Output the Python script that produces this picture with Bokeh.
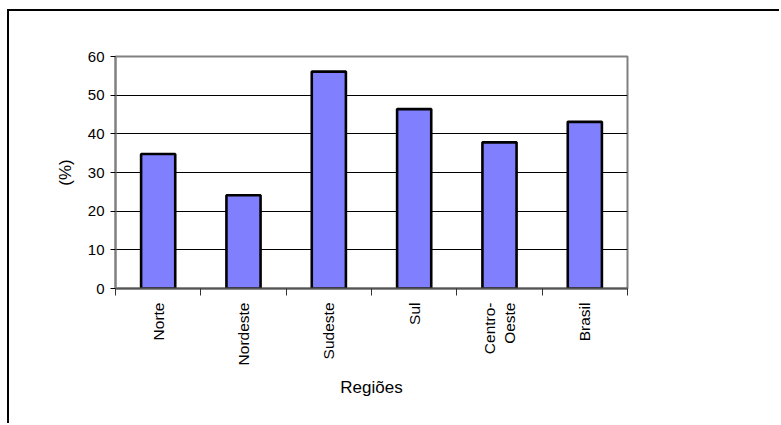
import math
from bokeh.plotting import figure
from bokeh.models import FixedTicker, Range1d, ColumnDataSource
from bokeh.embed import file_html
from bokeh.resources import INLINE

categories = ["Norte", "Nordeste", "Sudeste", "Sul", "Centro-\nOeste", "Brasil"]
values = [34.8, 24.1, 56.1, 46.4, 37.8, 43.1]
y_ticks = [0, 10, 20, 30, 40, 50, 60]

xpos = [i + 0.5 for i in range(len(categories))]
src = ColumnDataSource(dict(x=xpos, top=values))

p = figure(width=772, height=414, output_backend="svg", toolbar_location=None,
           x_range=Range1d(0, len(categories)), y_range=Range1d(0, 60),
           min_border_left=106, min_border_top=45, min_border_right=154, min_border_bottom=137,
           styles={"border-left": "2px solid black", "border-top": "2px solid black",
                   "margin-left": "7px", "margin-top": "9px"})

p.vbar(x="x", top="top", width=0.4, bottom=0, source=src,
       fill_color="#8080FF", line_color="black", line_width=2.6)

p.outline_line_color = "#808080"
p.outline_line_width = 2
p.background_fill_color = "white"

# grid
p.xgrid.visible = False
p.ygrid.ticker = FixedTicker(ticks=y_ticks)
p.ygrid.grid_line_color = "black"
p.ygrid.grid_line_width = 1

# y axis
ya = p.yaxis[0]
ya.ticker = FixedTicker(ticks=y_ticks)
ya.axis_line_color = "#808080"
ya.axis_line_width = 2
ya.major_tick_line_color = "black"
ya.major_tick_out = 5
ya.major_tick_in = 0
ya.minor_tick_line_color = None
ya.major_label_text_font = "Liberation Sans"
ya.major_label_text_font_size = "15px"
ya.major_label_text_color = "black"
ya.major_label_standoff = 6
ya.axis_label = "(%)"
ya.axis_label_text_font = "Liberation Sans"
ya.axis_label_text_font_size = "17px"
ya.axis_label_text_font_style = "normal"
ya.axis_label_text_color = "black"
ya.axis_label_standoff = 10

# x axis
xa = p.xaxis[0]
xa.ticker = FixedTicker(ticks=xpos, minor_ticks=list(range(len(categories) + 1)))
xa.major_label_overrides = {x: c for x, c in zip(xpos, categories)}
xa.axis_line_color = "#555555"
xa.axis_line_width = 2
xa.major_tick_line_color = None
xa.major_tick_out = 0
xa.major_tick_in = 0
xa.minor_tick_line_color = "#333333"
xa.minor_tick_out = 7
xa.minor_tick_in = 0
xa.major_label_orientation = math.pi / 2
xa.major_label_text_font = "Liberation Sans"
xa.major_label_text_font_size = "15.5px"
xa.major_label_text_color = "black"
xa.major_label_standoff = 7
xa.axis_label = "Regiões"
xa.axis_label_text_font = "Liberation Sans"
xa.axis_label_text_font_size = "17px"
xa.axis_label_text_font_style = "normal"
xa.axis_label_text_color = "black"
xa.axis_label_standoff = 10

open("out.html", "w").write(file_html(p, INLINE))
